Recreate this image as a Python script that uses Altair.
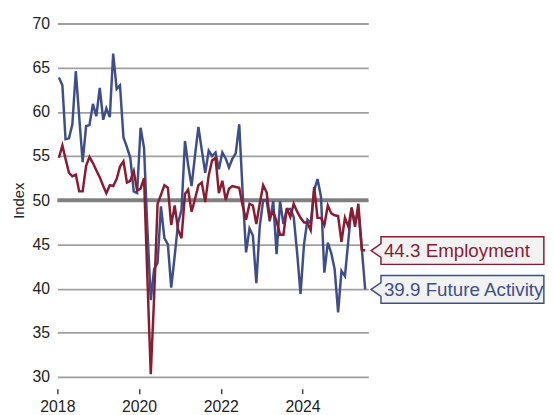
import altair as alt
import pandas as pd

# ---- data (monthly, Jan 2018 - Jul 2025) ----
employment = [
    54.8, 56.2, 54.7, 53.1, 52.7, 52.9, 51.0, 51.0, 53.9, 54.9,
    54.2, 53.4, 52.6, 51.6, 50.8, 51.7, 51.6, 52.4, 53.8, 54.4,
    52.0, 52.2, 53.3, 51.1, 51.3, 52.5, 41.5, 30.3, 39.0, 49.6,
    50.6, 51.7, 51.4, 47.2, 49.4, 46.7, 45.7, 50.7, 51.2, 48.7,
    50.1, 51.7, 52.0, 49.8, 52.8, 54.5, 54.8, 50.8, 52.2, 50.0,
    51.3, 51.6, 51.5, 51.4, 49.4, 47.8, 49.6, 49.4, 47.3, 49.6,
    51.7, 50.9, 48.0, 48.7, 47.6, 46.1, 46.1, 49.1, 48.1, 49.6,
    48.7, 48.0, 47.5, 47.4, 46.6, 51.5, 48.0, 48.0, 47.2, 49.4,
    48.5, 48.3, 48.2, 45.3, 48.0, 47.0, 49.1, 47.0, 49.6, 44.4,
    44.3,
]
future_activity = [
    63.9, 63.0, 56.9, 57.0, 58.6, 64.6, 59.5, 54.3, 58.4, 58.5,
    60.9, 59.5, 62.7, 59.1, 60.4, 59.4, 66.6, 62.6, 63.0, 57.1,
    56.0, 54.8, 51.0, 50.8, 58.2, 55.9, 47.0, 38.7, 42.2, 42.9,
    49.3, 45.7, 45.0, 40.1, 43.7, 47.4, 48.9, 56.7, 54.0, 51.6,
    55.0, 58.3, 55.7, 53.1, 55.6, 55.0, 55.4, 53.5, 55.4, 54.7,
    53.7, 54.7, 55.3, 58.6, 51.0, 44.1, 46.8, 46.0, 40.6, 47.0,
    50.0, 50.0, 47.6, 49.9, 43.9, 49.9, 47.3, 49.0, 49.0, 48.1,
    44.0, 39.4, 45.0, 47.8, 47.4, 51.1, 52.4, 50.4, 41.8, 45.2,
    44.0, 42.2, 37.3, 42.0, 41.4, 45.5, 49.2, 47.4, 48.8, 44.5,
    39.9,
]
series_names = ["Employment", "Future Activity"]
series_colors = ["#8a1c31", "#3e4e8a"]
reference_level = [50]
y_ticks = [30, 35, 40, 45, 50, 55, 60, 65, 70]
x_tick_years = [2018, 2020, 2022, 2024]

months = (pd.date_range("2018-01-01", periods=len(employment), freq="MS")
          + pd.Timedelta(days=14)).strftime("%Y-%m-%d").tolist()

df = pd.DataFrame({
    "date": months * 2,
    "value": employment + future_activity,
    "series": [series_names[0]] * len(employment) + [series_names[1]] * len(future_activity),
})

last = pd.DataFrame({
    "date": [months[-1], months[-1]],
    "value": [employment[-1], future_activity[-1]],
    "series": series_names,
})
last["label"] = [f"{v:.1f} {s}" for v, s in zip(last["value"], last["series"])]

color_scale = alt.Scale(domain=series_names, range=series_colors)

x_enc = alt.X(
    "date:T",
    scale=alt.Scale(domain=["2018-01-01", "2025-08-12"]),
    axis=alt.Axis(
        values=[alt.DateTime(year=y, month=1, date=1) for y in x_tick_years],
        format="%Y", domain=False, grid=False, tickSize=5, tickWidth=1.5,
        tickColor="#444444", offset=12, labelPadding=5, labelFlush=False,
        title=None, labelFontSize=16, labelColor="#222222",
        labelFont="Liberation Sans",
    ),
)
y_enc = alt.Y(
    "value:Q",
    scale=alt.Scale(domain=[30, 70], nice=False, zero=False),
    axis=alt.Axis(
        values=y_ticks, domain=False, ticks=False, labelPadding=8,
        grid=True, gridColor="#a0a0a0", gridWidth=1.8,
        title="Index", titleFontSize=15, titleFontWeight="normal",
        titleColor="#222222", titleFont="Liberation Sans", titlePadding=5,
        labelFontSize=16, labelColor="#222222", labelFont="Liberation Sans",
    ),
)

base = alt.Chart(df).encode(x=x_enc, y=y_enc,
                            color=alt.Color("series:N", scale=color_scale, legend=None))

ref = alt.Chart(pd.DataFrame({"y": reference_level})).mark_rule(
    color="#808080", strokeWidth=4
).encode(y=alt.Y("y:Q"))

blue_line = base.transform_filter(alt.datum.series == series_names[1]).mark_line(strokeWidth=2.5)
red_line = base.transform_filter(alt.datum.series == series_names[0]).mark_line(strokeWidth=2.5)

callout_path = ("M0.06,0 L0.16,-0.07 L0.16,-0.14 L1.81,-0.14 "
                "L1.81,0.14 L0.16,0.14 L0.16,0.07 Z")

boxes = alt.Chart(last).mark_point(
    shape=callout_path, size=40000, filled=True, fill="#f2f2f2",
    fillOpacity=1, opacity=1, strokeWidth=1.5, strokeOpacity=1,
).encode(
    x="date:T", y="value:Q",
    stroke=alt.Color("series:N", scale=color_scale, legend=None),
)

texts = alt.Chart(last).mark_text(
    align="left", baseline="middle", dx=19, dy=1, fontSize=19,
    font="Liberation Sans",
).encode(
    x="date:T", y="value:Q", text="label:N",
    color=alt.Color("series:N", scale=color_scale, legend=None),
)

chart = alt.layer(ref, blue_line, red_line, boxes, texts).properties(
    width=315, height=358,
    padding={"left": 50, "top": 13, "right": 180, "bottom": 44},
    autosize=alt.AutoSizeParams(type="none"),
    background="white",
).configure_view(stroke="transparent", strokeWidth=0)

chart.save("out.html", embed_options={"renderer": "svg", "actions": False})
